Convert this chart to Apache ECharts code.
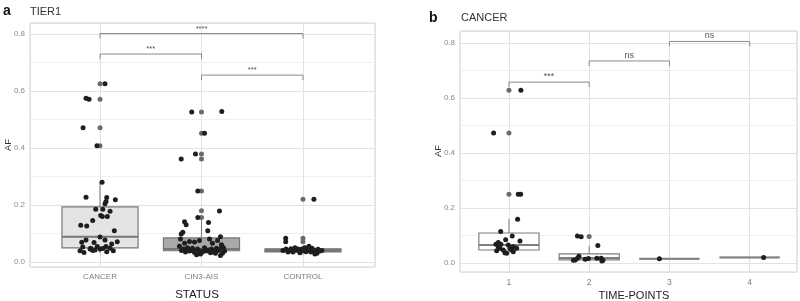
<!DOCTYPE html>
<html>
<head>
<meta charset="utf-8">
<script src="https://cdn.jsdelivr.net/npm/echarts@6/dist/echarts.min.js"></script>
<style>
  html, body { margin: 0; padding: 0; background: #fff; }
  #chart { width: 800px; height: 301px; }
</style>
</head>
<body>
<div id="chart"></div>
<script>
// 类别
var statusCats = ['CANCER', 'CIN3-AIS', 'CONTROL'];
var timeCats = ['1', '2', '3', '4'];

// 箱线图 [x, min, q1, median, q3, max]
var boxA = [
    [1, 0.030, 0.049, 0.088, 0.193, 0.280],
    [2, 0.020, 0.039, 0.045, 0.084, 0.150],
    [3, 0.026, 0.035, 0.040, 0.046, 0.058]
];
var boxB = [
    [1, 0.035, 0.047, 0.065, 0.109, 0.160],
    [2, 0.007, 0.011, 0.018, 0.033, 0.063],
    [3, 0.015, 0.015, 0.015, 0.015, 0.015],
    [4, 0.020, 0.020, 0.020, 0.020, 0.020]
];

// 离群点(灰色)
var outlierA = [
    [1, 0.626], [1, 0.571], [1, 0.471], [1, 0.408],
    [2, 0.526], [2, 0.452], [2, 0.379], [2, 0.361], [2, 0.249], [2, 0.180], [2, 0.156],
    [3, 0.220], [3, 0.083], [3, 0.071]
];
var outlierB = [
    [1, 0.628], [1, 0.473], [1, 0.250],
    [2, 0.096]
];

// 抖动点(黑色)
var jitterCancer = [
    [1.049, 0.626], [0.862, 0.575], [0.892, 0.571], [0.833, 0.471], [0.970, 0.408],
    [1.020, 0.280], [0.862, 0.227], [1.066, 0.226], [1.059, 0.212], [1.049, 0.204],
    [1.151, 0.218], [0.958, 0.185], [1.027, 0.185], [1.099, 0.178], [1.007, 0.163],
    [1.023, 0.159], [1.072, 0.159], [0.928, 0.145], [0.810, 0.129], [0.869, 0.126],
    [1.141, 0.109], [1.000, 0.087], [0.862, 0.077], [0.820, 0.069], [0.941, 0.068],
    [1.049, 0.077], [1.170, 0.071], [1.115, 0.063], [0.830, 0.052], [0.908, 0.048],
    [0.973, 0.054], [1.059, 0.054], [1.099, 0.048], [0.803, 0.039], [0.842, 0.033],
    [0.901, 0.045], [0.951, 0.042], [1.000, 0.045], [1.066, 0.036], [1.131, 0.039],
    [0.928, 0.040], [1.027, 0.047]
];
var jitterCin3 = [
    [1.904, 0.526], [2.200, 0.528], [2.030, 0.452], [1.800, 0.361], [1.941, 0.379],
    [1.964, 0.249], [2.177, 0.179], [1.964, 0.156], [1.833, 0.141], [1.849, 0.130],
    [2.069, 0.138], [1.816, 0.104], [1.800, 0.098], [2.062, 0.109], [2.187, 0.088],
    [1.793, 0.080], [1.882, 0.072], [1.931, 0.070], [1.980, 0.075], [2.079, 0.080],
    [2.158, 0.075], [1.833, 0.065], [2.108, 0.065], [2.197, 0.060], [1.783, 0.055],
    [1.862, 0.050], [1.911, 0.048], [1.961, 0.045], [2.030, 0.050], [2.099, 0.045],
    [2.148, 0.048], [2.217, 0.050], [1.803, 0.040], [1.842, 0.035], [1.882, 0.038],
    [1.931, 0.033], [1.970, 0.030], [2.010, 0.035], [2.049, 0.038], [2.089, 0.032],
    [2.128, 0.035], [2.167, 0.040], [2.207, 0.030], [1.823, 0.045], [1.911, 0.040],
    [1.990, 0.028], [2.069, 0.042], [2.138, 0.030], [2.187, 0.022], [1.951, 0.025],
    [1.852, 0.043], [2.108, 0.040], [2.227, 0.038], [2.177, 0.045], [1.980, 0.040]
];
var jitterControl = [
    [3.108, 0.220], [2.830, 0.083], [2.830, 0.071],
    [2.833, 0.045], [2.872, 0.040], [2.901, 0.035], [2.931, 0.042], [2.961, 0.038],
    [2.990, 0.045], [3.020, 0.050], [3.049, 0.040], [3.079, 0.035], [3.108, 0.042],
    [3.138, 0.030], [3.167, 0.038], [2.852, 0.035], [2.921, 0.050], [2.970, 0.032],
    [3.030, 0.036], [3.089, 0.048], [3.148, 0.044], [3.187, 0.040], [2.882, 0.046],
    [3.059, 0.055], [3.118, 0.028], [2.951, 0.045], [3.000, 0.040], [2.803, 0.040]
];
var jitterTime = [
    [1.149, 0.628], [0.809, 0.473], [1.116, 0.250], [1.146, 0.250], [1.108, 0.159],
    [0.897, 0.114], [1.041, 0.098], [1.137, 0.080], [0.959, 0.084], [0.867, 0.074],
    [0.838, 0.068], [0.900, 0.068], [0.991, 0.065], [1.054, 0.059], [1.012, 0.053],
    [0.888, 0.053], [0.847, 0.044], [0.929, 0.047], [0.950, 0.037], [1.034, 0.047],
    [1.054, 0.041], [0.971, 0.035], [1.096, 0.053], [0.867, 0.059],
    [1.854, 0.098], [1.900, 0.095], [2.108, 0.063], [1.826, 0.011], [1.854, 0.017],
    [1.950, 0.013], [1.991, 0.016], [2.149, 0.017], [2.171, 0.010], [1.804, 0.010],
    [1.872, 0.024], [2.096, 0.017], [2.158, 0.007],
    [2.875, 0.015],
    [4.174, 0.020]
];

// 显著性标注 [x1, x2, y]
var bracketA = [[1, 3, 0.802], [1, 2, 0.730], [2, 3, 0.656]];
var bracketLabelA = ['****', '***', '***'];
var bracketB = [[1, 2, 0.658], [2, 3, 0.735], [3, 4, 0.806]];
var bracketLabelB = ['***', 'ns', 'ns'];

var boxFillA = ['#e4e4e4', '#a9a9a9', '#777777'];
var BOX_W = 0.75;
var FONT = '"Liberation Sans", Arial, sans-serif';

var myChart = echarts.init(document.getElementById('chart'));

function boxRenderer(fills, stroke) {
    return function (params, api) {
        var x = api.value(0);
        var pMin = api.coord([x, api.value(1)]);
        var pQ1 = api.coord([x - BOX_W / 2, api.value(2)]);
        var pMed = api.coord([x - BOX_W / 2, api.value(3)]);
        var pQ3 = api.coord([x + BOX_W / 2, api.value(4)]);
        var pMax = api.coord([x, api.value(5)]);
        var right = pQ3[0];
        var fill = fills ? fills[params.dataIndex] : '#fff';
        return {
            type: 'group',
            children: [
                { type: 'line', shape: { x1: pMax[0], y1: pQ3[1], x2: pMax[0], y2: pMax[1] }, style: { stroke: stroke, lineWidth: 1 } },
                { type: 'line', shape: { x1: pMin[0], y1: pQ1[1], x2: pMin[0], y2: pMin[1] }, style: { stroke: stroke, lineWidth: 1 } },
                { type: 'rect', shape: { x: pQ1[0], y: pQ3[1], width: right - pQ1[0], height: pQ1[1] - pQ3[1] }, style: { fill: fill, stroke: stroke, lineWidth: 1.2 } },
                { type: 'line', shape: { x1: pMed[0], y1: pMed[1], x2: right, y2: pMed[1] }, style: { stroke: stroke, lineWidth: 2 } }
            ]
        };
    };
}

function bracketRenderer(labels, fontSize) {
    return function (params, api) {
        var a = api.coord([api.value(0), api.value(2)]);
        var b = api.coord([api.value(1), api.value(2)]);
        return {
            type: 'group',
            children: [
                { type: 'polyline', shape: { points: [[a[0], a[1] + 5], a, b, [b[0], b[1] + 5]] }, style: { stroke: '#8a8a8a', lineWidth: 1, fill: null } },
                { type: 'text', style: { text: labels[params.dataIndex], x: (a[0] + b[0]) / 2, y: a[1] - 1, align: 'center', verticalAlign: 'bottom', fontSize: fontSize, fontFamily: FONT, fill: '#555' } }
            ]
        };
    };
}

function xAxisOf(gridIndex, min, max, splitNumber, cats, fontSize) {
    return {
        type: 'value', gridIndex: gridIndex, min: min, max: max, splitNumber: splitNumber,
        axisLine: { show: false }, axisTick: { show: false },
        axisLabel: {
            showMinLabel: false, showMaxLabel: false, margin: 6,
            color: '#7d7d7d', fontSize: fontSize, fontFamily: FONT,
            formatter: function (v) {
                var i = Math.round(v);
                return Math.abs(v - i) < 1e-6 && cats[i - 1] ? cats[i - 1] : '';
            }
        },
        splitLine: { show: true, lineStyle: { color: '#e2e2e2', width: 1 } }
    };
}

function yAxisOf(gridIndex, min, max) {
    return {
        type: 'value', gridIndex: gridIndex, min: min, max: max, splitNumber: 4,
        axisLine: { show: false }, axisTick: { show: false },
        axisLabel: {
            showMinLabel: false, showMaxLabel: false, margin: 5,
            color: '#8a8a8a', fontSize: 8, fontFamily: FONT,
            formatter: function (v) { return v.toFixed(1); }
        },
        splitLine: { show: true, lineStyle: { color: '#e2e2e2', width: 1 } },
        minorTick: { show: false, splitNumber: 2 },
        minorSplitLine: { show: true, lineStyle: { color: '#f0f0f0', width: 1 } }
    };
}

function scatterOf(idx, data, color) {
    return {
        type: 'scatter', xAxisIndex: idx, yAxisIndex: idx, data: data,
        symbolSize: 5, itemStyle: { color: color, opacity: 1 }, silent: true, z: 3
    };
}

var option = {
    animation: false,
    grid: [
        { left: 30, right: 425, top: 23, bottom: 34, show: true, borderColor: '#d2d2d2', borderWidth: 1 },
        { left: 460, right: 3, top: 31, bottom: 29, show: true, borderColor: '#d2d2d2', borderWidth: 1 }
    ],
    xAxis: [
        xAxisOf(0, 0.31, 3.71, 3, statusCats, 8),
        xAxisOf(1, 0.39, 4.59, 4, timeCats, 8.5)
    ],
    yAxis: [
        yAxisOf(0, -0.018, 0.839),
        yAxisOf(1, -0.033, 0.844)
    ],
    graphic: [
        { type: 'text', left: 3, top: 4, style: { text: 'a', fontSize: 14, fontWeight: 'bold', fontFamily: FONT, fill: '#111' } },
        { type: 'text', left: 30, top: 6, style: { text: 'TIER1', fontSize: 11, fontFamily: FONT, fill: '#333' } },
        { type: 'text', left: 429, top: 11, style: { text: 'b', fontSize: 14, fontWeight: 'bold', fontFamily: FONT, fill: '#111' } },
        { type: 'text', left: 461, top: 12, style: { text: 'CANCER', fontSize: 11, fontFamily: FONT, fill: '#333' } },
        { type: 'text', x: 8, y: 145, rotation: Math.PI / 2, style: { text: 'AF', align: 'center', verticalAlign: 'middle', fontSize: 9.5, fontFamily: FONT, fill: '#333' } },
        { type: 'text', x: 438, y: 151, rotation: Math.PI / 2, style: { text: 'AF', align: 'center', verticalAlign: 'middle', fontSize: 9.5, fontFamily: FONT, fill: '#333' } },
        { type: 'text', x: 197, y: 295, style: { text: 'STATUS', align: 'center', verticalAlign: 'middle', fontSize: 11.5, fontFamily: FONT, fill: '#222' } },
        { type: 'text', x: 634, y: 296, style: { text: 'TIME-POINTS', align: 'center', verticalAlign: 'middle', fontSize: 11, fontFamily: FONT, fill: '#222' } }
    ],
    series: [
        { type: 'custom', xAxisIndex: 0, yAxisIndex: 0, data: boxA, renderItem: boxRenderer(boxFillA, '#777'), silent: true, z: 2 },
        scatterOf(0, outlierA, '#6b6b6b'),
        scatterOf(0, jitterCancer, '#1e1e1e'),
        scatterOf(0, jitterCin3, '#1e1e1e'),
        scatterOf(0, jitterControl, '#1e1e1e'),
        { type: 'custom', xAxisIndex: 0, yAxisIndex: 0, data: bracketA, renderItem: bracketRenderer(bracketLabelA, 7.5), silent: true, z: 4 },

        { type: 'custom', xAxisIndex: 1, yAxisIndex: 1, data: boxB, renderItem: boxRenderer(null, '#7f7f7f'), silent: true, z: 2 },
        scatterOf(1, outlierB, '#6b6b6b'),
        scatterOf(1, jitterTime, '#1e1e1e'),
        { type: 'custom', xAxisIndex: 1, yAxisIndex: 1, data: bracketB, renderItem: bracketRenderer(bracketLabelB, 9), silent: true, z: 4 }
    ]
};

myChart.setOption(option);
</script>
</body>
</html>
